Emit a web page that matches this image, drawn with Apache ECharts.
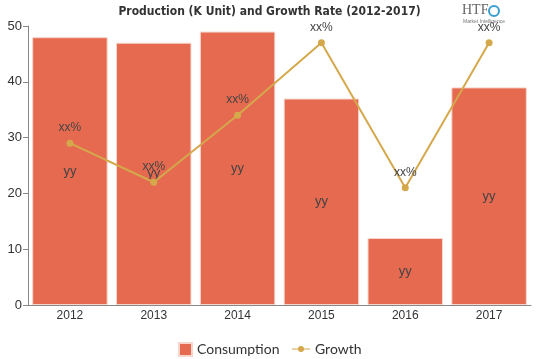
<!DOCTYPE html>
<html><head><meta charset="utf-8">
<script src="https://cdn.jsdelivr.net/npm/echarts@6/dist/echarts.min.js"></script>
<style>html,body{margin:0;padding:0;background:#fff}#c{width:539px;height:359px}</style>
</head><body><div id="c"></div>
<script>
var categories = ['2012','2013','2014','2015','2016','2017'];
var consumption = [48, 47, 49, 37, 12, 39];
var growth = [29, 22, 34, 47, 21, 47];
var yTicks = [0, 10, 20, 30, 40, 50];

var chart = echarts.init(document.getElementById('c'));
chart.setOption({
  animation: false,
  title: {
    text: 'Production (K Unit) and Growth Rate (2012-2017)',
    left: 'center', top: 1,
    textStyle: {fontFamily: 'DejaVu Sans Condensed', fontWeight: 'bold', fontSize: 12, color: '#333'}
  },
  graphic: [
    {type: 'text', left: 462, top: 3, style: {text: 'HTF', fontSize: 14, fill: '#666', fontFamily: 'Liberation Serif'}},
    {type: 'circle', shape: {cx: 494, cy: 11, r: 5}, style: {fill: 'none', stroke: '#3a9fd0', lineWidth: 2}},
    {type: 'text', left: 463, top: 19, style: {text: 'Market Intelligence', fontSize: 5, fill: '#777'}}
  ],
  legend: [
    {
      left: 173, bottom: -3, itemWidth: 13, itemHeight: 13,
      textStyle: {fontSize: 14, color: '#333', fontFamily: 'Lato'},
      data: [{name: 'Consumption', icon: 'rect'}]
    },
    {
      left: 287, bottom: -2, itemWidth: 18, itemHeight: 8,
      textStyle: {fontSize: 14, color: '#333', fontFamily: 'Lato'},
      data: [{name: 'Growth', icon: 'path://M0,3.4 L18,3.4 L18,4.6 L0,4.6 Z M9,1 A3,3 0 1,1 9,7 A3,3 0 1,1 9,1 Z'}]
    }
  ],
  grid: {left: 28, right: 8, top: 26, bottom: 54},
  xAxis: {
    type: 'category', data: categories,
    axisLine: {lineStyle: {color: '#888'}},
    axisTick: {show: false},
    axisLabel: {color: '#333', fontSize: 12, margin: 5}
  },
  yAxis: {
    type: 'value', min: 0, max: 50, interval: 10,
    axisLine: {show: true, lineStyle: {color: '#888'}},
    axisTick: {show: true, length: 5, lineStyle: {color: '#888'}},
    splitLine: {show: false},
    axisLabel: {color: '#333', fontSize: 13, margin: 6}
  },
  series: [
    {
      name: 'Consumption', type: 'bar', data: consumption,
      barCategoryGap: '10%',
      itemStyle: {color: '#e66a50', borderColor: '#f6d6cc', borderWidth: 1},
      label: {show: true, position: 'inside', formatter: 'yy', color: '#444', fontSize: 13}
    },
    {
      name: 'Growth', type: 'line', data: growth,
      symbol: 'circle', symbolSize: 7,
      lineStyle: {color: '#d4a84b', width: 2},
      itemStyle: {color: '#d4a84b'},
      label: {show: true, position: 'top', formatter: 'xx%', color: '#444', fontSize: 12, distance: 6}
    }
  ]
});
</script></body></html>
